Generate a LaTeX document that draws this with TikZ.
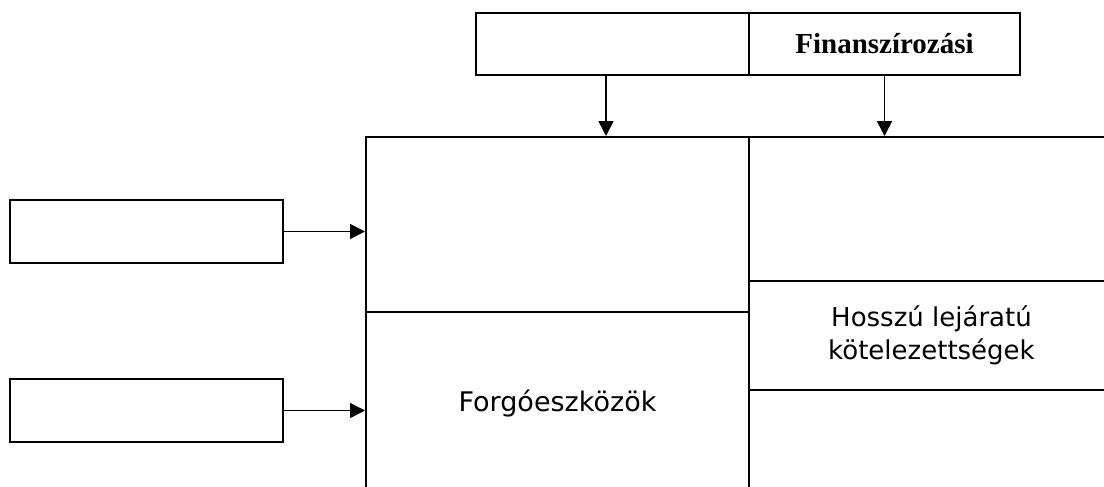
\documentclass[tikz,border=0pt]{standalone}
\usepackage{fontspec}
\setmainfont{DejaVu Sans}
\newfontfamily\headfont{Liberation Serif}
\usetikzlibrary{arrows.meta,positioning,calc}
\tikzset{
  box/.style={draw=black, line width=2pt, inner sep=0pt, anchor=north west},
  arrow/.style={-{Triangle[length=15pt,width=15pt]}, line width=1.6pt},
  lbl/.style={font=\fontsize{26}{33}\selectfont, align=center},
}

\begin{document}
\begin{tikzpicture}[x=1pt,y=-1pt]
  \useasboundingbox (0,0) rectangle (1104,487);
  % top row
  \node[box, minimum width=273pt, minimum height=62pt] (srcL) at (475,12) {};
  \node[box, minimum width=271pt, minimum height=62pt,
        font=\headfont\bfseries\fontsize{29}{33}\selectfont] (srcR) at (748,12) {Finansz\'{\i}roz\'asi};
  \coordinate (tapL) at (606,74);
  % left boxes
  \node[box, minimum width=273pt, minimum height=63pt] (inA) at (9,199) {};
  \node[box, minimum width=273pt, minimum height=63pt] (inB) at (9,378) {};
  % assets side
  \node[box, minimum width=383pt, minimum height=175pt] (fixA) at (365,136) {};
  \node[box, minimum width=383pt, minimum height=184pt, lbl, font=\fontsize{27}{33}\selectfont] (curA) at (365,311) {Forgóeszközök};
  % liabilities side
  \node[box, minimum width=365pt, minimum height=144pt] (eqty) at (748,136) {};
  \node[box, minimum width=365pt, minimum height=109pt, lbl] (ltl) at (748,280) {Hosszú lejáratú\\kötelezettségek};
  \node[box, minimum width=365pt, minimum height=110pt] (stl) at (748,389) {};
  % arrows
  \draw[arrow] (tapL) -- (tapL |- fixA.north);
  \draw[arrow] (srcR.south) -- (srcR.south |- eqty.north);
  \draw[arrow] (inA.east) -- (inA.east -| fixA.west);
  \draw[arrow] (inB.east) -- (inB.east -| curA.west);
\end{tikzpicture}
\end{document}
